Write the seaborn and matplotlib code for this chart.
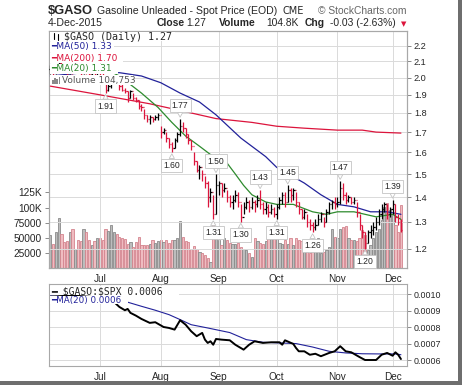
import numpy as np
import pandas as pd
import seaborn as sns
import matplotlib.pyplot as plt
from matplotlib.patches import Rectangle

W, H = 464, 387

# trading days on the chart
holidays = ['2015-07-03', '2015-09-07', '2015-11-26']
dates = pd.bdate_range('2015-06-05', '2015-12-04', freq='C', holidays=holidays)

# daily bars
close = [2.05, 2.03, 2.06, 2.09, 2.07, 2.05, 2.03, 2.06, 2.04, 2.07, 2.05, 2.03, 2.06, 2.04, 2.02, 2.05, 2.03, 2.04,
         2.01, 1.99, 1.93, 1.95, 1.97, 1.99, 1.97,
         1.95, 1.93, 1.92, 1.88, 1.92, 1.88, 1.87, 1.84, 1.83, 1.79, 1.77, 1.78, 1.77, 1.78, 1.79,
         1.70, 1.71, 1.67, 1.64, 1.62, 1.66, 1.69, 1.73, 1.72, 1.69, 1.66, 1.63, 1.56, 1.52, 1.53, 1.50, 1.46, 1.40, 1.42, 1.33, 1.45,
         1.46, 1.43, 1.44, 1.40, 1.38, 1.39, 1.41, 1.38, 1.32, 1.36, 1.38, 1.36, 1.38, 1.37, 1.39, 1.37, 1.35, 1.36, 1.34, 1.35, 1.33,
         1.36, 1.39, 1.41, 1.38, 1.43, 1.41, 1.43, 1.38, 1.35, 1.32, 1.34, 1.30, 1.29, 1.28, 1.29, 1.31, 1.33, 1.30, 1.34, 1.37, 1.38, 1.37,
         1.38, 1.44, 1.41, 1.39, 1.40, 1.38, 1.39, 1.34, 1.29, 1.26, 1.22, 1.26, 1.27, 1.28, 1.30, 1.33, 1.35, 1.37, 1.33, 1.35,
         1.37, 1.32, 1.30, 1.27]
high = [2.08, 2.06, 2.08, 2.11, 2.10, 2.08, 2.06, 2.08, 2.07, 2.09, 2.08, 2.06, 2.08, 2.07, 2.05, 2.07, 2.06, 2.06,
        2.05, 2.03, 1.99, 1.96, 1.98, 2.00, 2.00,
        1.97, 1.96, 1.94, 1.92, 1.93, 1.91, 1.89, 1.87, 1.85, 1.82, 1.79, 1.79, 1.78, 1.79, 1.80,
        1.73, 1.72, 1.70, 1.67, 1.65, 1.67, 1.70, 1.77, 1.75, 1.72, 1.69, 1.66, 1.60, 1.56, 1.54, 1.52, 1.49, 1.47, 1.44, 1.41, 1.50,
        1.47, 1.46, 1.46, 1.43, 1.41, 1.41, 1.43, 1.42, 1.37, 1.38, 1.40, 1.39, 1.40, 1.39, 1.41, 1.43, 1.38, 1.38, 1.37, 1.37, 1.36,
        1.37, 1.40, 1.42, 1.42, 1.45, 1.44, 1.44, 1.42, 1.38, 1.35, 1.35, 1.33, 1.31, 1.30, 1.31, 1.33, 1.34, 1.32, 1.35, 1.38, 1.39, 1.40,
        1.40, 1.47, 1.46, 1.42, 1.41, 1.40, 1.40, 1.38, 1.33, 1.29, 1.26, 1.27, 1.29, 1.30, 1.32, 1.35, 1.37, 1.38, 1.37, 1.36,
        1.39, 1.37, 1.33, 1.31]
low = [2.02, 2.01, 2.02, 2.05, 2.05, 2.03, 2.01, 2.02, 2.02, 2.03, 2.03, 2.01, 2.02, 2.02, 2.00, 2.01, 2.01, 2.01,
       1.99, 1.97, 1.91, 1.92, 1.94, 1.96, 1.96,
       1.93, 1.92, 1.91, 1.86, 1.88, 1.87, 1.86, 1.82, 1.81, 1.77, 1.75, 1.74, 1.75, 1.76, 1.76,
       1.67, 1.69, 1.65, 1.62, 1.60, 1.62, 1.65, 1.68, 1.70, 1.67, 1.64, 1.61, 1.54, 1.51, 1.48, 1.47, 1.44, 1.36, 1.38, 1.31, 1.33,
       1.41, 1.40, 1.42, 1.38, 1.36, 1.35, 1.38, 1.36, 1.30, 1.33, 1.35, 1.34, 1.35, 1.34, 1.36, 1.35, 1.33, 1.33, 1.32, 1.33, 1.32,
       1.31, 1.35, 1.37, 1.36, 1.38, 1.38, 1.39, 1.36, 1.33, 1.31, 1.31, 1.28, 1.27, 1.26, 1.27, 1.29, 1.30, 1.28, 1.30, 1.33, 1.35, 1.35,
       1.36, 1.37, 1.39, 1.37, 1.38, 1.37, 1.37, 1.32, 1.27, 1.24, 1.20, 1.22, 1.24, 1.25, 1.27, 1.29, 1.31, 1.34, 1.31, 1.32,
       1.33, 1.30, 1.29, 1.26]
volume_k = [55, 40, 60, 82, 56, 43, 44, 60, 65, 32, 47, 45, 65, 60, 46, 38, 45, 49,
            49, 47, 64, 61, 71, 60, 57, 51, 50, 48, 39, 43, 34, 43, 51, 38, 38, 38, 39, 47, 42, 45,
            47, 43, 46, 42, 47, 46, 49, 78, 51, 45, 43, 32, 36, 32, 27, 24, 21, 17, 10, 75, 49,
            46, 38, 49, 46, 42, 39, 40, 42, 35, 32, 30, 25, 19, 49, 45, 42, 39, 45, 51, 49, 50,
            50, 42, 39, 46, 40, 50, 38, 49, 47, 45, 29, 32, 25, 38, 46, 49, 24, 27, 29, 35, 64, 51,
            49, 65, 68, 69, 49, 46, 47, 45, 49, 63, 54, 29, 38, 49, 60, 65, 79, 101, 108, 96,
            90, 71, 60, 105]

# moving averages, sampled along the lines
ma50_idx = [0, 12, 25, 33, 40, 47, 54, 60, 69, 78, 82, 92, 98, 104, 110, 116, 122, 127]
ma50 = [2.01, 2.03, 2.03, 2.01, 1.97, 1.91, 1.86, 1.79, 1.67, 1.58, 1.53, 1.46, 1.41, 1.37, 1.36, 1.34, 1.34, 1.33]
ma200_idx = [0, 18, 36, 48, 60, 73, 82, 92, 104, 113, 118, 127]
ma200 = [1.95, 1.90, 1.85, 1.81, 1.77, 1.75, 1.73, 1.72, 1.71, 1.71, 1.70, 1.695]
ma20_idx = [0, 10, 19, 25, 33, 39, 44, 49, 54, 59, 64, 67, 70, 73, 78, 82, 88, 95, 100, 104, 110, 114, 118, 121, 124, 127]
ma20 = [2.05, 2.06, 2.06, 2.01, 1.91, 1.83, 1.75, 1.68, 1.63, 1.58, 1.55, 1.50, 1.45, 1.41, 1.38, 1.37, 1.37, 1.34,
        1.33, 1.34, 1.34, 1.33, 1.32, 1.325, 1.33, 1.31]

# $GASO:$SPX ratio panel
ratio_idx = [0, 10, 18, 22, 25, 27, 28, 29, 31, 33, 36, 38, 41, 43, 45, 47, 49, 51, 53, 55, 56, 57, 58, 59, 60, 62, 65,
             67, 70, 72, 74, 77, 80, 83, 84, 85, 88, 89, 90, 92, 94, 96, 98, 101, 103, 105, 107, 109, 112, 114, 118,
             120, 122, 124, 125, 126, 127]
ratio = [0.00100, 0.00099, 0.00098, 0.00097, 0.000923, 0.000903, 0.000911, 0.000887, 0.00087, 0.00085, 0.000826,
         0.00083, 0.000801, 0.000795, 0.000785, 0.000842, 0.000815, 0.000775, 0.000745, 0.000765, 0.000724, 0.000704,
         0.000714, 0.000693, 0.000728, 0.000724, 0.00072, 0.000693, 0.000663, 0.000693, 0.000714, 0.000704, 0.000708,
         0.000708, 0.000693, 0.00072, 0.000698, 0.000673, 0.000653, 0.000653, 0.000632, 0.000638, 0.000623, 0.000643,
         0.000653, 0.000684, 0.000653, 0.000647, 0.000618, 0.0006, 0.0006, 0.000632, 0.000643, 0.000626, 0.000647,
         0.000632, 0.000606]
ratio_ma_idx = [0, 14, 28, 33, 38, 43, 47, 51, 57, 65, 71, 77, 83, 89, 95, 101, 107, 113, 119, 125, 127]
ratio_ma = [0.00099, 0.00097, 0.000952, 0.000927, 0.000903, 0.000876, 0.000846, 0.000815, 0.000795, 0.000767,
            0.000724, 0.000708, 0.000704, 0.0007, 0.000679, 0.000653, 0.000643, 0.000638, 0.000637, 0.000637, 0.000632]

# swing labels
swing_idx = [20, 47, 44, 60, 59, 76, 69, 82, 86, 95, 105, 114, 124]
swing_txt = ['1.91', '1.77', '1.60', '1.50', '1.31', '1.43', '1.30', '1.31', '1.45', '1.26', '1.47', '1.20', '1.39']
swing_hi = [False, True, False, True, False, True, False, False, True, False, True, False, True]

price_ticks = [1.2, 1.3, 1.4, 1.5, 1.6, 1.7, 1.8, 1.9, 2.0, 2.1, 2.2]
vol_ticks = [25000, 50000, 75000, 100000, 125000]
vol_labels = ['25000', '50000', '75000', '100K', '125K']
ratio_ticks = [0.0006, 0.0007, 0.0008, 0.0009, 0.0010]

RED = '#dc143c'
NAVY = '#22229a'
GREEN = '#2e8b2e'
GRID = '#dadada'
SPINE = '#a8a8a8'

sns.set_theme(style='white')
plt.rcParams['font.family'] = ['Liberation Sans', 'DejaVu Sans']

df = pd.DataFrame({'date': dates, 'close': close, 'high': high, 'low': low,
                   'volume': np.array(volume_k) * 1000})
df['x'] = np.arange(len(df))
df['open'] = df['close'].shift(1).fillna(df['close'])
df['up'] = df['close'] >= df['open']
bar_col = np.where(df['up'], 'black', RED)
vol_fill = np.where(df['up'], '#bdbdbd', '#efbcc1')
vol_edge = np.where(df['up'], '#8a8a8a', '#d4848e')

month_pos = [i for i in range(1, len(df)) if df['date'][i].month != df['date'][i - 1].month]
month_lab = [df['date'][i].strftime('%b') for i in month_pos]


def box(x0, y0, x1, y1):
    return [x0 / W, 1 - y1 / H, (x1 - x0) / W, (y1 - y0) / H]


fig = plt.figure(figsize=(W / 100, H / 100), dpi=100)
fig.patch.set_facecolor('white')

ax_v = fig.add_axes(box(49, 31, 407, 268))
ax = ax_v.twinx()
ax_r = fig.add_axes(box(49, 284, 407, 366), sharex=ax_v)

# volume
ax_v.bar(df['x'], df['volume'], width=0.8, color=vol_fill, edgecolor=vol_edge, linewidth=0.6)
ax_v.set_ylim(0, 392000)
ax_v.set_yticks(vol_ticks, labels=vol_labels)

# price bars + moving averages
ax.set_yscale('log')
for m in month_pos:
    ax.axvline(m, color=GRID, lw=0.7, zorder=0.5)
ax.vlines(df['x'], df['low'], df['high'], colors=bar_col, lw=0.9, zorder=4)
ax.hlines(df['open'], df['x'] - 0.45, df['x'], colors=bar_col, lw=0.9, zorder=4)
ax.hlines(df['close'], df['x'], df['x'] + 0.45, colors=bar_col, lw=0.9, zorder=4)
sns.lineplot(x=ma200_idx, y=ma200, ax=ax, color=RED, lw=0.9, zorder=3)
sns.lineplot(x=ma50_idx, y=ma50, ax=ax, color=NAVY, lw=0.9, zorder=3)
sns.lineplot(x=ma20_idx, y=ma20, ax=ax, color=GREEN, lw=0.9, zorder=3)
ax.set_ylim(1.133, 2.299)
ax.set_yticks(price_ticks, labels=['%.1f' % t for t in price_ticks])
ax.minorticks_off()
ax.grid(True, axis='y', color=GRID, lw=0.7)
ax.set_axisbelow(True)
ax.set_xlim(-0.5, 129.2)

for i, t, hi in zip(swing_idx, swing_txt, swing_hi):
    yv = df['high'][i] if hi else df['low'][i]
    ax.annotate(t, xy=(i, yv), xytext=(0, 13 if hi else -13), textcoords='offset pixels',
                ha='center', va='center', fontsize=6.2, zorder=6,
                bbox=dict(boxstyle='square,pad=0.25', fc='white', ec='#c4c4c4', lw=0.6),
                arrowprops=dict(arrowstyle='wedge,tail_width=0.6,shrink_factor=0.5', fc='white',
                                ec='#c4c4c4', lw=0.6, shrinkA=0, shrinkB=1))

# ratio panel
for m in month_pos:
    ax_r.axvline(m, color=GRID, lw=0.7, zorder=0.5)
sns.lineplot(x=ratio_ma_idx, y=ratio_ma, ax=ax_r, color=NAVY, lw=0.8)
sns.lineplot(x=ratio_idx, y=ratio, ax=ax_r, color='black', lw=1.4)
ax_r.set_ylim(0.0005635, 0.0010627)
ax_r.set_yticks(ratio_ticks, labels=['%.4f' % t for t in ratio_ticks])
ax_r.yaxis.tick_right()
ax_r.grid(True, axis='y', color=GRID, lw=0.7)
ax_r.set_axisbelow(True)

ax_v.set_xticks(month_pos, labels=month_lab)
for a in (ax_v, ax, ax_r):
    a.set_xlabel('')
    a.set_ylabel('')
    for s in a.spines.values():
        s.set_color(SPINE)
        s.set_linewidth(0.8)
ax_v.tick_params(axis='y', length=3, width=0.6, color='#777777', labelsize=7.3, pad=2, left=True)
ax_v.tick_params(axis='x', length=0, labelsize=7.2, pad=4)
ax.tick_params(axis='y', length=3, width=0.6, color='#777777', labelsize=6.6, pad=2, right=True)
ax_r.tick_params(axis='y', length=3, width=0.6, color='#777777', labelsize=6.4, pad=2, right=True)
ax_r.tick_params(axis='x', length=0, labelsize=7.2, pad=4)


def ftext(xp, yp, s, **kw):
    kw.setdefault('va', 'center')
    kw.setdefault('ha', 'left')
    return fig.text(xp / W, 1 - yp / H, s, **kw)


def wbox(x0, y0, x1, y1):
    fig.add_artist(Rectangle((x0 / W, 1 - y1 / H), (x1 - x0) / W, (y1 - y0) / H,
                             transform=fig.transFigure, fc='white', ec='none', zorder=2))


# header
ftext(48, 10.5, r'\$GASO', fontsize=9.3, fontweight='bold')
ftext(97, 11, 'Gasoline Unleaded - Spot Price (EOD)', fontsize=7.6)
ftext(283, 11, 'CME', fontsize=7.0, family='DejaVu Sans')
ftext(318, 11, '\u00a9 StockCharts.com', fontsize=7.4, color='#666666')
ftext(48, 23.5, '4-Dec-2015', fontsize=7.6)
ftext(157, 23.5, 'Close', fontsize=7.4, fontweight='bold')
ftext(186, 23.5, '1.27', fontsize=7.4)
ftext(219, 23.5, 'Volume', fontsize=7.4, fontweight='bold')
ftext(266, 23.5, '104.8K', fontsize=7.4)
ftext(305, 23.5, 'Chg', fontsize=7.4, fontweight='bold')
ftext(330, 23.5, '-0.03 (-2.63%)', fontsize=7.4)
ftext(403.5, 24.5, '\u25bc', fontsize=5, color=RED, ha='center', family='DejaVu Sans')

# main panel legend
wbox(50, 32, 175, 41)
wbox(50, 42, 114, 52)
wbox(50, 53, 123, 63)
wbox(50, 64, 118, 74)
wbox(50, 75, 133, 85)
for bx, top, bot in [(54, 33, 39), (58, 34, 40)]:
    fig.add_artist(plt.Line2D([bx / W, bx / W], [1 - bot / H, 1 - top / H], color='black', lw=0.8,
                              transform=fig.transFigure, zorder=3))
ftext(64, 36.5, r'\$GASO (Daily) 1.27', fontsize=7.2, family='DejaVu Sans Mono', zorder=3)
ftext(51, 47, '\u2501MA(50) 1.33', fontsize=6.5, color=NAVY, zorder=3, family='DejaVu Sans')
ftext(51, 58, '\u2501MA(200) 1.70', fontsize=6.5, color=RED, zorder=3, family='DejaVu Sans')
ftext(51, 69, '\u2501MA(20) 1.31', fontsize=6.5, color=GREEN, zorder=3, family='DejaVu Sans')
for k, hgt in enumerate([4, 6, 5, 7]):
    fig.add_artist(Rectangle(((52 + 2.2 * k) / W, 1 - 84 / H), 1.6 / W, hgt / H, transform=fig.transFigure,
                             fc='#8a8a8a', ec='none', zorder=3))
ftext(62, 80, 'Volume 104,753', fontsize=6.5, color='#555555', zorder=3, family='DejaVu Sans')

# ratio panel legend
wbox(50, 286, 179, 295)
wbox(50, 296, 128, 304)
ftext(51, 291, r'\u2501 \$GASO:\$SPX 0.0006'.replace(r'\u2501', '\u2501'), fontsize=7.0,
      family='DejaVu Sans Mono', zorder=3)
ftext(51, 300, '\u2501MA(20) 0.0006', fontsize=6.3, color=NAVY, zorder=3, family='DejaVu Sans')

# drop shadow on the right and bottom edges
fig.add_artist(Rectangle((458 / W, 1 - 385 / H), 4 / W, 385 / H, transform=fig.transFigure,
                         fc='#6e6e6e', ec='none', zorder=5))
fig.add_artist(Rectangle((0, 1 - 385 / H), 462 / W, 4 / H, transform=fig.transFigure,
                         fc='#6e6e6e', ec='none', zorder=5))

fig.savefig('out.png', dpi=100, facecolor='white')
